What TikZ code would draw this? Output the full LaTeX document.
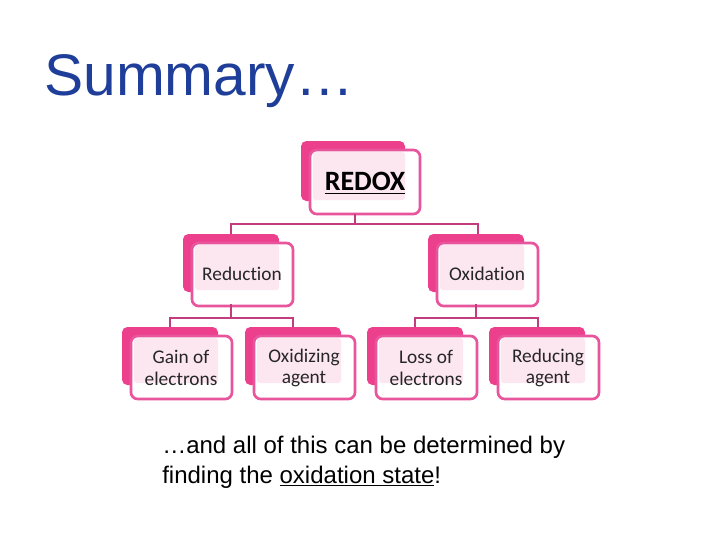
\documentclass[tikz,border=0pt]{standalone}
\usepackage{fontspec}
\setmainfont{Liberation Sans}
\newfontfamily\boxfont[Ligatures={NoCommon,NoRare}]{Carlito}
\definecolor{dpink}{HTML}{EC3F8C}
\definecolor{bpink}{HTML}{E8559C}
\definecolor{lpink}{HTML}{FCE6F0}
\definecolor{lnk}{HTML}{C23C7E}
\definecolor{ttl}{HTML}{1F3E99}
\begin{document}
\begin{tikzpicture}[x=0.75pt,y=-0.75pt,
  backbox/.style={fill=dpink,rounded corners=4pt},
  frontbox/.style={fill=white,draw=bpink,line width=2pt,rounded corners=5pt},
  innerbox/.style={fill=lpink,rounded corners=2pt},
  lbl/.style={font=\boxfont\fontsize{14.5}{16}\selectfont,align=center,text=black!85},
  link/.style={draw=lnk,line width=2pt}]
\useasboundingbox (0,0) rectangle (720,540);
\node[anchor=base west,text=ttl,font=\fontsize{44}{48}\selectfont,inner sep=0] (title) at (44,95) {Summary…};
\newcommand{\mybox}[5]{%
  \fill[backbox] (#2,#3) rectangle ++(96,58);
  \fill[frontbox] (#2+9,#3+9) rectangle ++(101,63);
  \fill[innerbox] (#2+12,#3+11) rectangle ++(84,45);
  \node[lbl] (#1) at (#2+59,#3+#4) {#5};
}
\fill[backbox] (301,141) rectangle (405,201);
\fill[frontbox] (310,150) rectangle (420,214);
\fill[innerbox] (313,152) rectangle (405,200);
\node[font=\boxfont\bfseries\fontsize{21}{22}\selectfont] (redox) at (365,183) {\underline{REDOX}};
\coordinate (redoxb) at (355,214);
\mybox{red}{183}{234}{40}{Reduction}
\mybox{oxi}{428}{234}{40}{Oxidation}
\mybox{gain}{122}{327}{41}{Gain of\\electrons}
\mybox{oxag}{245}{327}{41}{Oxidizing\\agent}
\mybox{loss}{367}{327}{41}{Loss of\\electrons}
\mybox{redag}{489}{327}{41}{Reducing\\agent}
\draw[link] (redoxb) -- ++(0,10) -| (231,234);
\draw[link] (redoxb) ++(0,10) -| (478,234);
\draw[link] (231,304) -- (231,318) -| (170,327);
\draw[link] (231,318) -| (293,327);
\draw[link] (476,304) -- (476,318) -| (415,327);
\draw[link] (476,318) -| (538,327);
\node[anchor=north west,align=left,font=\fontsize{18}{22}\selectfont,inner sep=0] (note) at (162,436)
  {…and all of this can be determined by\\finding the \underline{oxidation state}!};
\end{tikzpicture}
\end{document}
